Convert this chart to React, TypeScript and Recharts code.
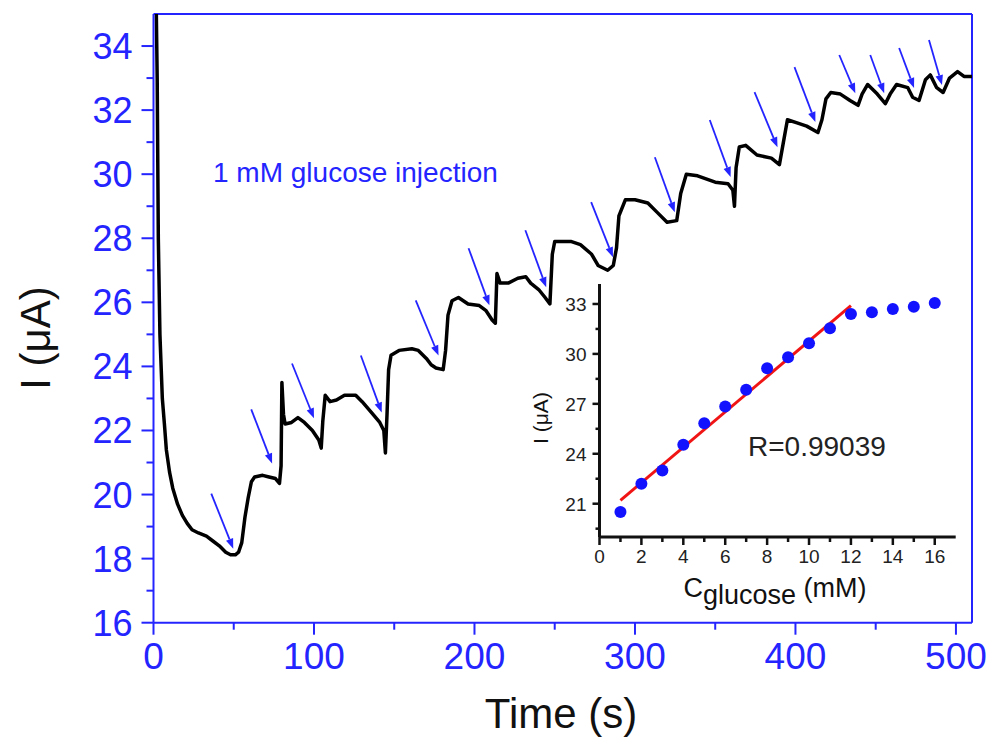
import React from 'react';
import { LineChart, Line, XAxis, YAxis, ReferenceLine, ComposedChart, Scatter } from 'recharts';

const FONT = '"Liberation Sans", Arial, Helvetica, sans-serif';
const BLUE = '#2424ff';
const DOT_BLUE = '#1212ff';
const FIT_RED = '#f01414';
const INK = '#111111';

// ---- main amperometric trace ----
const timeS = [
  1.5, 2.3, 3, 4, 5.5, 6.8, 8, 10, 12, 15,
  18, 21, 24, 28, 33, 37, 41, 45, 48, 51,
  53, 55, 57, 59, 61, 63, 68, 72, 76, 78.5,
  79.5, 80, 81, 82, 86, 90, 94, 99, 103, 104.5,
  105.5, 107, 110, 114, 119, 126, 130, 136, 141, 143.5,
  144.5, 145.5, 146.5, 148, 153, 161, 165, 170, 173, 176,
  180.5, 182, 183.5, 186, 190, 196, 203, 207, 211, 213,
  214, 216, 221, 227, 232, 235, 240, 244, 247, 248.5,
  250, 260, 266, 273, 277, 283, 286.5, 288.5, 290, 294,
  300, 308, 314, 320, 326, 328.5, 332, 339, 350, 358,
  361, 362, 363, 365, 369, 376, 385, 390, 392.5, 395,
  401, 407, 414, 416.5, 419, 422, 428, 434, 439, 441.5,
  445, 451, 456, 459, 463, 470, 473, 477, 481, 484,
  488, 492, 496, 501, 505, 510,
];
const currentUA = [
  36, 33, 28, 25, 23.0, 22.2, 21.4, 20.7, 20.2, 19.7,
  19.35, 19.1, 18.9, 18.8, 18.7, 18.55, 18.4, 18.2, 18.12, 18.12,
  18.2, 18.5, 19.3, 19.9, 20.4, 20.55, 20.6, 20.55, 20.5, 20.35,
  20.9, 23.5, 22.5, 22.2, 22.25, 22.4, 22.25, 22.0, 21.7, 21.45,
  22.3, 23.1, 22.9, 22.95, 23.1, 23.1, 22.9, 22.55, 22.25, 22.0,
  21.3, 22.5, 23.9, 24.35, 24.5, 24.55, 24.5, 24.25, 24.05, 23.95,
  23.9, 24.5, 25.6, 26.05, 26.15, 25.95, 25.9, 25.75, 25.45, 25.35,
  26.9, 26.6, 26.6, 26.75, 26.8, 26.6, 26.4, 26.15, 25.95, 27.5,
  27.9, 27.9, 27.8, 27.5, 27.15, 27.0, 27.15, 27.7, 28.7, 29.2,
  29.2, 29.1, 28.8, 28.5, 28.55, 29.4, 30.0, 29.95, 29.75, 29.7,
  29.5, 29.0, 30.2, 30.85, 30.9, 30.6, 30.5, 30.3, 31.0, 31.7,
  31.6, 31.5, 31.3, 31.7, 32.35, 32.55, 32.5, 32.3, 32.15, 32.5,
  32.8, 32.5, 32.2, 32.5, 32.8, 32.7, 32.4, 32.3, 32.95, 33.1,
  32.7, 32.55, 33.0, 33.2, 33.05, 33.05,
];

const xMajorTicks = [0, 100, 200, 300, 400, 500];
const xMinorTicks = [50, 150, 250, 350, 450];
const yMajorTicks = [16, 18, 20, 22, 24, 26, 28, 30, 32, 34];
const yMinorTicks = [17, 19, 21, 23, 25, 27, 29, 31, 33];

// injection arrows (start time, start current, end time, end current)
const arrowStartT = [36, 60.9, 86.3, 129.2, 163.4, 196.3, 231.7, 272.7, 312.4, 346.6, 374.5, 399.4, 427.3, 446.6, 464.6, 483.2];
const arrowStartI = [20.03, 22.66, 24.09, 24.34, 26.06, 27.69, 28.25, 29.13, 30.53, 31.69, 32.56, 33.34, 33.72, 33.72, 33.94, 34.19];
const arrowEndT = [49.7, 73.9, 100, 142.2, 177.6, 209.3, 244.7, 286.3, 324.8, 359.6, 388.8, 412.4, 437.3, 455.3, 473.9, 491.3];
const arrowEndI = [18.31, 20.97, 22.38, 22.56, 24.34, 25.91, 26.47, 27.41, 28.81, 29.91, 30.84, 31.63, 32.53, 32.53, 32.69, 32.78];

// ---- inset calibration ----
const concMM = [1, 2, 3, 4, 5, 6, 7, 8, 9, 10, 11, 12, 13, 14, 15, 16];
const insetCurrent = [20.5, 22.2, 23.0, 24.54, 25.84, 26.84, 27.84, 29.14, 29.8, 30.64, 31.54, 32.4, 32.5, 32.7, 32.84, 33.06];
const fitConc = [1, 12];
const fitCurrent = [21.2, 32.9];
const insetXTicks = [0, 1, 2, 3, 4, 5, 6, 7, 8, 9, 10, 11, 12, 13, 14, 15, 16];
const insetYMajor = [21, 24, 27, 30, 33];
const insetYMinor = [19.5, 22.5, 25.5, 28.5, 31.5];

const mainData = timeS.map((t, k) => ({ t, i: currentUA[k] }));
const arrows = arrowStartT.map((t1, k) => ({ t1, i1: arrowStartI[k], t2: arrowEndT[k], i2: arrowEndI[k] }));
const insetData = concMM.map((c, k) => ({ c, i: insetCurrent[k] }));
const fitData = fitConc.map((c, k) => ({ c, i: fitCurrent[k] }));

const MainXTick = (props: any) => {
  const { x, y, payload } = props;
  const v = payload.value;
  const major = xMajorTicks.includes(v);
  const axisY = y - 20;
  return (
    <g>
      <line x1={x} x2={x} y1={axisY} y2={axisY + (major ? 12 : 7)} stroke={BLUE} strokeWidth={2} />
      {major && (
        <text x={x} y={y} dy="0.71em" textAnchor="middle" fill={BLUE} fontSize={37} fontFamily={FONT}>
          {v}
        </text>
      )}
    </g>
  );
};

const MainYTick = (props: any) => {
  const { x, y, payload } = props;
  const v = payload.value;
  const major = yMajorTicks.includes(v);
  const axisX = x + 21;
  return (
    <g>
      <line x1={axisX - (major ? 12 : 7)} x2={axisX} y1={y} y2={y} stroke={BLUE} strokeWidth={2} />
      {major && (
        <text x={x} y={y} dy="0.36em" textAnchor="end" fill={BLUE} fontSize={36} fontFamily={FONT}>
          {v}
        </text>
      )}
    </g>
  );
};

const InsetXTick = (props: any) => {
  const { x, y, payload } = props;
  const v = payload.value;
  const major = v % 2 === 0;
  const axisY = y - 13;
  return (
    <g>
      <line x1={x} x2={x} y1={axisY} y2={axisY + (major ? 8 : 5)} stroke={INK} strokeWidth={2.5} />
      {major && (
        <text x={x} y={y} dy="0.71em" textAnchor="middle" fill="#222" fontSize={19} fontFamily={FONT}>
          {v}
        </text>
      )}
    </g>
  );
};

const InsetYTick = (props: any) => {
  const { x, y, payload } = props;
  const v = payload.value;
  const major = insetYMajor.includes(v);
  const axisX = x + 13;
  return (
    <g>
      <line x1={axisX - (major ? 7 : 4)} x2={axisX} y1={y} y2={y} stroke={INK} strokeWidth={2.5} />
      {major && (
        <text x={x} y={y} dy="0.36em" textAnchor="end" fill="#222" fontSize={19} fontFamily={FONT}>
          {v}
        </text>
      )}
    </g>
  );
};

const ArrowShape = (p: any) => {
  const { x1, y1, x2, y2 } = p;
  const dx = x2 - x1;
  const dy = y2 - y1;
  const len = Math.hypot(dx, dy) || 1;
  const ux = dx / len;
  const uy = dy / len;
  const hl = 10;
  const hw = 3.8;
  const bx = x2 - ux * hl;
  const by = y2 - uy * hl;
  const pts = `${x2},${y2} ${bx - uy * hw},${by + ux * hw} ${bx + uy * hw},${by - ux * hw}`;
  return (
    <g>
      <line x1={x1} y1={y1} x2={bx} y2={by} stroke={BLUE} strokeWidth={1.8} />
      <polygon points={pts} fill={BLUE} />
    </g>
  );
};

const Dot = (p: any) => <circle cx={p.cx} cy={p.cy} r={6} fill={DOT_BLUE} />;

export default function App() {
  return (
    <div style={{ position: 'absolute', left: 0, top: 0, width: 992, height: 738, background: '#fff', fontFamily: FONT }}>
      <LineChart width={992} height={738} data={mainData} margin={{ top: 14, right: 20, bottom: 55.3, left: 0 }}>
        <XAxis
          type="number"
          dataKey="t"
          domain={[0, 510]}
          allowDataOverflow
          ticks={[...xMajorTicks, ...xMinorTicks].sort((a, b) => a - b)}
          interval={0}
          tickSize={12}
          tickMargin={8}
          tickLine={false}
          tick={<MainXTick />}
          axisLine={{ stroke: BLUE, strokeWidth: 2 }}
          height={60}
          label={{
            content: () => (
              <text x={561} y={728} textAnchor="middle" fill={INK} fontSize={42} fontFamily={FONT}>
                Time (s)
              </text>
            ),
          }}
        />
        <YAxis
          type="number"
          domain={[16, 35]}
          allowDataOverflow
          ticks={[...yMajorTicks, ...yMinorTicks].sort((a, b) => a - b)}
          interval={0}
          width={153.5}
          tickSize={12}
          tickMargin={9}
          tickLine={false}
          tick={<MainYTick />}
          axisLine={{ stroke: BLUE, strokeWidth: 2 }}
          label={{
            content: () => (
              <text
                x={50}
                y={338}
                transform="rotate(-90, 50, 338)"
                textAnchor="middle"
                fill={INK}
                fontSize={42}
                fontFamily={FONT}
              >
                I (μA)
              </text>
            ),
          }}
        />
        <ReferenceLine y={35} stroke={BLUE} strokeWidth={2} />
        <ReferenceLine x={510} stroke={BLUE} strokeWidth={2} />
        {arrows.map((a, k) => (
          <ReferenceLine
            key={k}
            segment={[
              { x: a.t1, y: a.i1 },
              { x: a.t2, y: a.i2 },
            ]}
            shape={ArrowShape}
          />
        ))}
        <Line
          dataKey="i"
          type="linear"
          stroke="#000"
          strokeWidth={3.5}
          strokeLinejoin="round"
          dot={false}
          activeDot={false}
          isAnimationActive={false}
        />
      </LineChart>

      <div
        style={{
          position: 'absolute',
          left: 213,
          top: 159,
          fontSize: 28,
          lineHeight: '28px',
          color: BLUE,
          whiteSpace: 'nowrap',
          fontFamily: FONT,
        }}
      >
        1 mM glucose injection
      </div>

      <div style={{ position: 'absolute', left: 520, top: 270 }}>
        <ComposedChart width={460} height={340} margin={{ top: 14, right: 24.3, bottom: 43, left: 0 }}>
          <XAxis
            type="number"
            dataKey="c"
            domain={[0, 17]}
            ticks={insetXTicks}
            interval={0}
            tickSize={8}
            tickMargin={5}
            tickLine={false}
            tick={<InsetXTick />}
            axisLine={{ stroke: INK, strokeWidth: 3 }}
            height={30}
            label={{
              content: () => (
                <text x={255} y={327} textAnchor="middle" fill={INK} fontSize={27} fontFamily={FONT}>
                  <tspan>C</tspan>
                  <tspan dy={7}>glucose</tspan>
                  <tspan dy={-7}> (mM)</tspan>
                </text>
              ),
            }}
          />
          <YAxis
            type="number"
            domain={[19, 34.2]}
            ticks={[...insetYMajor, ...insetYMinor].sort((a, b) => a - b)}
            interval={0}
            width={79.5}
            tickSize={7}
            tickMargin={6}
            tickLine={false}
            tick={<InsetYTick />}
            axisLine={{ stroke: INK, strokeWidth: 3 }}
            label={{
              content: () => (
                <text
                  x={28}
                  y={148}
                  transform="rotate(-90, 28, 148)"
                  textAnchor="middle"
                  fill={INK}
                  fontSize={21}
                  fontFamily={FONT}
                >
                  I (μA)
                </text>
              ),
            }}
          />
          <Scatter data={insetData} dataKey="i" shape={<Dot />} isAnimationActive={false} />
          <Line
            data={fitData}
            dataKey="i"
            type="linear"
            stroke={FIT_RED}
            strokeWidth={3}
            dot={false}
            activeDot={false}
            isAnimationActive={false}
          />
        </ComposedChart>
      </div>

      <div
        style={{
          position: 'absolute',
          left: 748,
          top: 433,
          fontSize: 28,
          lineHeight: '28px',
          color: '#222',
          whiteSpace: 'nowrap',
          fontFamily: FONT,
        }}
      >
        R=0.99039
      </div>
    </div>
  );
}
